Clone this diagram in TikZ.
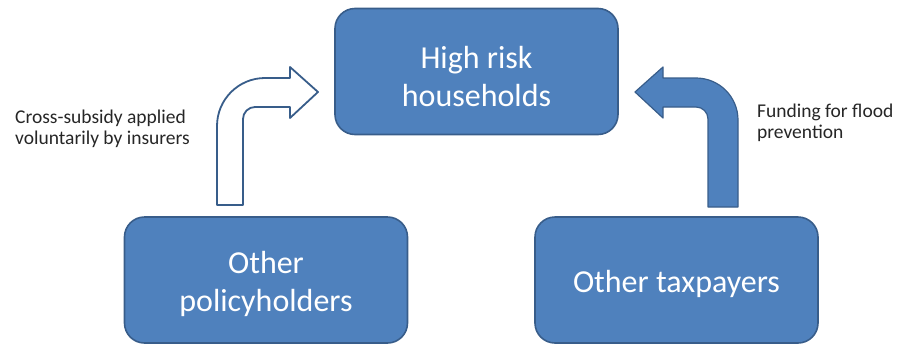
\documentclass[tikz,border=0pt]{standalone}
\usepackage{fontspec}
\setmainfont{Carlito}
\definecolor{boxfill}{HTML}{4F81BD}
\definecolor{boxedge}{HTML}{385D8A}
\definecolor{labeltext}{HTML}{262626}
\tikzset{
  bluebox/.style={draw=boxedge, line width=1.6pt, fill=boxfill, rounded corners=20pt,
    minimum width=283pt, minimum height=126pt, inner sep=0pt},
  boxtext/.style={align=center, text=white, font=\fontsize{32}{38}\selectfont, inner sep=0pt},
  sidelabel/.style={align=left, anchor=west, text=labeltext, font=\fontsize{19.5}{21.5}\selectfont, inner sep=0pt},
  blockarrowopen/.style={draw=boxedge, line width=1.8pt, fill=white, line join=round},
  blockarrowfull/.style={draw=boxedge, line width=1.2pt, fill=boxfill, line join=round}
}
\begin{document}
\begin{tikzpicture}[x=1pt,y=-1pt]
\useasboundingbox (0,0) rectangle (898,346);
\node[bluebox] (hr) at (476.5,71.5) {};
\node[bluebox] (op) at (266,280) {};
\node[bluebox] (ot) at (676.5,280) {};
\node[boxtext] (hrt) at ([yshift=-5pt]hr.center) {High risk\\households};
\node[boxtext] (opt) at ([yshift=-4pt]op.center) {Other\\policyholders};
\node[boxtext] (ott) at ([yshift=-4pt]ot.center) {Other taxpayers};
\node[sidelabel] (l1) at (15,129) {Cross-subsidy applied\\voluntarily by insurers};
\node[sidelabel] (l2) at (757,123) {Funding for flood\\prevention};
% left open arrow from Other policyholders to High risk households
\draw[blockarrowopen] (217,205) -- (217,126) arc[start angle=180, end angle=90, radius=48pt]
  -- (290,78) -- (290,67) -- (318,92) -- (290,118) -- (290,107) -- (255,107)
  arc[start angle=90, end angle=180, radius=12pt] -- (243,205) -- cycle;
% right filled arrow from Other taxpayers to High risk households
\draw[blockarrowfull] (738,207) -- (738,120) arc[start angle=0, end angle=90, radius=42pt]
  -- (663,78) -- (663,67) -- (635,92) -- (663,118) -- (663,107) -- (696,107)
  arc[start angle=90, end angle=0, radius=12pt] -- (708,207) -- cycle;
\end{tikzpicture}
\end{document}
